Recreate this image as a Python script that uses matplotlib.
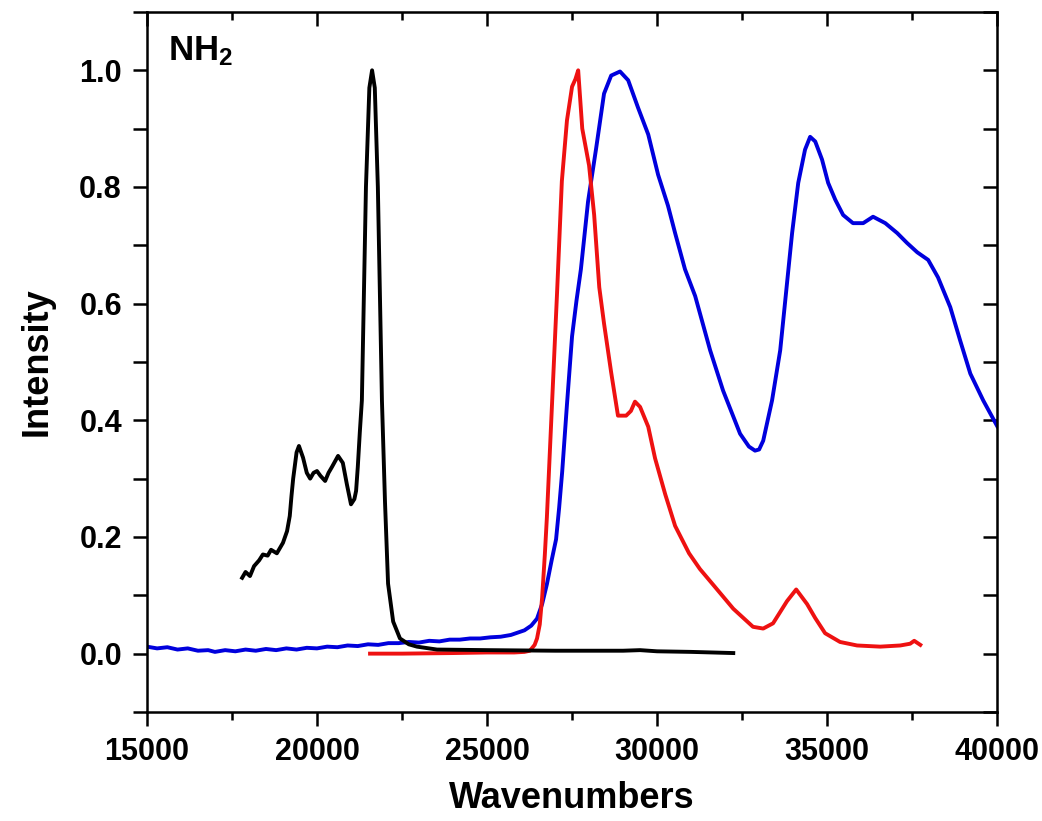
import matplotlib
matplotlib.use("Agg")
import matplotlib.pyplot as plt
from matplotlib.ticker import MultipleLocator, FormatStrFormatter

plt.rcParams['font.family'] = ['Liberation Sans', 'DejaVu Sans']
plt.rcParams['font.weight'] = 'bold'
plt.rcParams['mathtext.fontset'] = 'custom'
plt.rcParams['mathtext.bf'] = 'Liberation Sans:bold'
plt.rcParams['mathtext.rm'] = 'Liberation Sans:bold'

# black spectrum
black_x = [17800, 17900, 18030, 18150, 18300, 18410, 18550, 18650, 18820, 18900,
           19000, 19120, 19200, 19250, 19300, 19400, 19470, 19590, 19700, 19800,
           19900, 20000, 20100, 20240, 20340, 20440, 20620, 20760, 20880, 21000,
           21100, 21150, 21200, 21260, 21320, 21440, 21540, 21620, 21700, 21790,
           21910, 22000, 22090, 22240, 22440, 22700, 22940, 23530, 25000, 27000,
           29000, 29500, 30000, 31000, 32240]
black_y = [0.13, 0.14, 0.133, 0.15, 0.16, 0.17, 0.168, 0.178, 0.172, 0.18,
           0.19, 0.21, 0.236, 0.27, 0.30, 0.345, 0.356, 0.336, 0.31, 0.30,
           0.31, 0.313, 0.305, 0.296, 0.31, 0.32, 0.339, 0.327, 0.29, 0.256,
           0.265, 0.279, 0.32, 0.38, 0.434, 0.8, 0.97, 1.0, 0.97, 0.8,
           0.434, 0.26, 0.12, 0.055, 0.026, 0.016, 0.012, 0.007, 0.006, 0.005,
           0.005, 0.006, 0.004, 0.003, 0.001]

# red spectrum
red_x = [21560, 22500, 24000, 25000, 25800, 26100, 26260, 26400, 26470, 26550,
         26620, 26700, 26760, 26910, 27060, 27200, 27350, 27500, 27600, 27680,
         27740, 27800, 28000, 28150, 28300, 28440, 28650, 28850, 29090, 29230,
         29350, 29500, 29740, 29940, 30240, 30530, 30940, 31260, 31650, 32240,
         32820, 33120, 33410, 33820, 34090, 34410, 34650, 34940, 35380, 35880,
         36560, 37150, 37440, 37560, 37740]
red_y = [0.0, 0.0, 0.001, 0.002, 0.002, 0.003, 0.005, 0.015, 0.026, 0.05,
         0.096, 0.17, 0.234, 0.427, 0.62, 0.81, 0.914, 0.972, 0.985, 1.0,
         0.95, 0.90, 0.837, 0.752, 0.628, 0.566, 0.482, 0.408, 0.408, 0.416,
         0.432, 0.423, 0.389, 0.335, 0.273, 0.219, 0.172, 0.145, 0.118, 0.077,
         0.046, 0.043, 0.052, 0.09, 0.11, 0.085, 0.061, 0.035, 0.02, 0.014,
         0.012, 0.014, 0.017, 0.022, 0.015]

# blue spectrum
blue_x = [15000, 15300, 15600, 15900, 16200, 16500, 16800, 17000, 17300, 17600,
          17900, 18200, 18500, 18800, 19100, 19400, 19700, 20000, 20300, 20600,
          20900, 21200, 21500, 21800, 22100, 22400, 22700, 23000, 23300, 23600,
          23900, 24200, 24500, 24800, 25100, 25400, 25700, 25900, 26100, 26300,
          26470, 26620, 26760, 26900, 27030, 27120, 27210, 27350, 27500, 27630,
          27760, 27970, 28210, 28440, 28650, 28910, 29150, 29440, 29740, 30030,
          30320, 30530, 30820, 31120, 31560, 31940, 32440, 32700, 32880, 33000,
          33120, 33380, 33620, 33820, 33970, 34150, 34350, 34500, 34650, 34850,
          35030, 35240, 35470, 35760, 36060, 36350, 36710, 37060, 37350, 37650,
          37970, 38260, 38620, 38910, 39210, 39590, 40000]
blue_y = [0.012, 0.009, 0.011, 0.007, 0.009, 0.005, 0.006, 0.003, 0.006, 0.004,
          0.007, 0.005, 0.008, 0.006, 0.009, 0.007, 0.010, 0.009, 0.012, 0.011,
          0.014, 0.013, 0.016, 0.015, 0.018, 0.018, 0.020, 0.019, 0.022, 0.021,
          0.024, 0.024, 0.026, 0.026, 0.028, 0.029, 0.032, 0.036, 0.040, 0.048,
          0.06, 0.085, 0.119, 0.16, 0.196, 0.25, 0.312, 0.427, 0.544, 0.605,
          0.659, 0.775, 0.867, 0.96, 0.991, 0.998, 0.983, 0.936, 0.89, 0.821,
          0.768, 0.721, 0.659, 0.613, 0.52, 0.451, 0.377, 0.355, 0.348, 0.350,
          0.365, 0.434, 0.52, 0.635, 0.721, 0.807, 0.864, 0.886, 0.878, 0.847,
          0.807, 0.778, 0.752, 0.738, 0.738, 0.749, 0.738, 0.721, 0.704, 0.688,
          0.675, 0.645, 0.594, 0.537, 0.48, 0.434, 0.39]

fig = plt.figure(figsize=(10.42, 8.21), dpi=100)
ax = fig.add_axes([0.141, 0.1328, 0.816, 0.8526])

lw = 2.8
ax.plot(blue_x, blue_y, color='#0000dd', lw=lw, solid_joinstyle='round')
ax.plot(red_x, red_y, color='#ee1111', lw=lw, solid_joinstyle='round')
ax.plot(black_x, black_y, color='black', lw=lw, solid_joinstyle='round')

ax.set_xlim(15000, 40000)
ax.set_ylim(-0.1, 1.1)

ax.xaxis.set_major_locator(MultipleLocator(5000))
ax.xaxis.set_minor_locator(MultipleLocator(2500))
ax.yaxis.set_major_locator(MultipleLocator(0.2))
ax.yaxis.set_minor_locator(MultipleLocator(0.1))
ax.yaxis.set_major_formatter(FormatStrFormatter('%.1f'))

for s in ax.spines.values():
    s.set_linewidth(1.8)

ax.tick_params(axis='x', which='major', direction='out', length=10, width=1.8,
               labelsize=22, pad=8)
ax.tick_params(axis='x', which='minor', direction='out', length=5.5, width=1.8)
ax.tick_params(axis='y', which='both', direction='out', length=10, width=1.8,
               labelsize=22, pad=8)

# mirrored ticks pointing inward on top and right
top = ax.secondary_xaxis('top')
top.xaxis.set_major_locator(MultipleLocator(5000))
top.xaxis.set_minor_locator(MultipleLocator(2500))
top.tick_params(which='major', direction='in', length=10, width=1.8, labeltop=False)
top.tick_params(which='minor', direction='in', length=5.5, width=1.8)
right = ax.secondary_yaxis('right')
right.yaxis.set_major_locator(MultipleLocator(0.1))
right.tick_params(which='major', direction='in', length=10, width=1.8, labelright=False)
right.tick_params(which='minor', right=False)

for lab in ax.get_xticklabels() + ax.get_yticklabels():
    lab.set_fontweight('bold')

ax.set_xlabel('Wavenumbers', fontsize=26, fontweight='bold', labelpad=10)
ax.set_ylabel('Intensity', fontsize=26, fontweight='bold', labelpad=18)

ax.text(0.025, 0.968, r'$\mathbf{NH_2}$', transform=ax.transAxes,
        fontsize=25, va='top', ha='left')

fig.savefig('out.png', dpi=100)
